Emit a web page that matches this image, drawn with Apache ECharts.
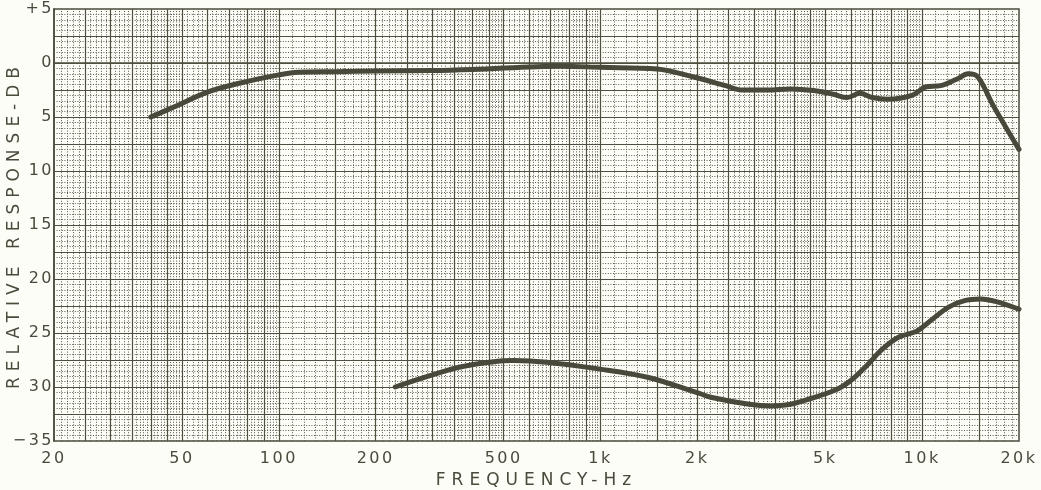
<!DOCTYPE html>
<html>
<head>
<meta charset="utf-8">
<script src="https://cdn.jsdelivr.net/npm/echarts@6/dist/echarts.min.js"></script>
<style>
html,body{margin:0;padding:0;background:#fdfdf7;}
#c{width:1041px;height:490px;}
</style>
</head>
<body>
<div id="c"></div>
<script>
// ---- data ----
const topFreq = [40, 47, 60, 76, 100, 115, 150, 200, 300, 400, 750, 1000, 1500, 1950, 2450, 2750, 3300, 3900, 4600, 5300, 5850, 6400, 7000, 7800, 9300, 10300, 11400, 12800, 13900, 14900, 16600, 20000];
const topDb   = [-5.0, -4.1, -2.7, -1.85, -1.1, -0.85, -0.8, -0.75, -0.7, -0.6, -0.3, -0.4, -0.55, -1.3, -2.1, -2.5, -2.5, -2.4, -2.55, -2.9, -3.2, -2.8, -3.2, -3.35, -3.0, -2.2, -2.1, -1.5, -1.0, -1.3, -3.9, -8.0];
const botFreq = [230, 295, 373, 535, 680, 975, 1400, 2030, 2200, 2900, 3400, 3900, 4200, 5400, 6000, 6730, 7520, 8440, 9660, 10780, 12090, 13550, 15190, 17000, 20000];
const botDb   = [-30.0, -28.95, -28.1, -27.55, -27.7, -28.3, -29.1, -30.6, -30.95, -31.6, -31.75, -31.6, -31.35, -30.25, -29.4, -28.0, -26.5, -25.4, -24.8, -23.7, -22.6, -22.0, -21.85, -22.1, -22.8];
const xTickLabels = [20, 50, 100, 200, 500, 1000, 2000, 5000, 10000, 20000];
const yTickValues = [5, 0, -5, -10, -15, -20, -25, -30, -35];
const decadeMajor = [1, 1.5, 2, 2.5, 3, 3.5, 4, 4.5, 5, 6, 7, 8, 9];

// ---- wider letter spacing like the stencil lettering ----
const _ft = CanvasRenderingContext2D.prototype.fillText;
CanvasRenderingContext2D.prototype.fillText = function (t, x, y, w) {
  const m = /(\d+(?:\.\d+)?)px/.exec(this.font);
  const s = m ? parseFloat(m[1]) : 12;
  try { this.letterSpacing = s >= 16.5 ? '6px' : '2.5px'; } catch (e) {}
  return w === undefined ? _ft.call(this, t, x, y) : _ft.call(this, t, x, y, w);
};

// ---- grid paper lines ----
const majorV = [], minorV = [];
[10, 100, 1000, 10000].forEach(d => {
  decadeMajor.forEach(m => { const f = +(m * d).toFixed(3); if (f > 20 && f < 20000) majorV.push(f); });
  for (let k = 10; k < 100; k++) {
    const m = k / 10;
    if (m >= 5 && (k % 2)) continue;
    if (decadeMajor.indexOf(m) >= 0) continue;
    const f = +(m * d).toFixed(3);
    if (f > 20 && f < 20000) minorV.push(f);
  }
});
const majorH = [], minorH = [];
for (let i = 1; i < 80; i++) {
  const v = 5 - i * 0.5;
  if (i % 5 === 0) majorH.push(v); else minorH.push(v);
}

const ink = '#4a4a3d';
function gridSeries(name, items, axisKey, style) {
  return {
    name: name, type: 'line', data: [], z: 1, silent: true, animation: false,
    markLine: {
      silent: true, animation: false, symbol: ['none', 'none'],
      label: { show: false }, emphasis: { disabled: true },
      lineStyle: style,
      data: items.map(v => ({ [axisKey]: v }))
    }
  };
}

const chart = echarts.init(document.getElementById('c'), null, { renderer: 'canvas' });
const fontFam = '"DejaVu Sans", "Liberation Sans", sans-serif';
chart.setOption({
  backgroundColor: '#fdfdf7',
  animation: false,
  grid: { left: 54, right: 22, top: 9, bottom: 49, outerBoundsMode: 'none', containLabel: false, show: true, borderColor: ink, borderWidth: 1.5, backgroundColor: 'transparent' },
  xAxis: {
    type: 'log', logBase: 10, min: 20, max: 20000,
    name: 'FREQUENCY-Hz', nameLocation: 'middle', nameGap: 31, nameMoveOverlap: false,
    nameTextStyle: { fontFamily: fontFam, fontSize: 17, color: ink },
    axisLine: { show: true, lineStyle: { color: ink, width: 1.5 } },
    axisTick: { show: false },
    splitLine: { show: false },
    minorSplitLine: { show: false },
    axisLabel: {
      customValues: xTickLabels, margin: 10,
      fontFamily: fontFam, fontSize: 16, color: ink,
      formatter: v => (v >= 1000 ? (v / 1000) + 'k' : String(v))
    }
  },
  yAxis: {
    type: 'value', min: -35, max: 5, interval: 5,
    name: 'RELATIVE RESPONSE-DB', nameLocation: 'middle', nameGap: 31, nameMoveOverlap: false,
    nameTextStyle: { fontFamily: fontFam, fontSize: 17, color: ink },
    axisLine: { show: true, lineStyle: { color: ink, width: 1.5 } },
    axisTick: { show: false },
    splitLine: { show: false },
    axisLabel: {
      margin: 0, fontFamily: fontFam, fontSize: 16, color: ink,
      customValues: yTickValues,
      formatter: v => (v > 0 ? '+' + v : v === 0 ? '0' : (v === -35 ? '\u221235' : String(-v)))
    }
  },
  series: [
    gridSeries('minorV', minorV, 'xAxis', { color: '#5c5c50', width: 1, type: [1, 1.6] }),
    gridSeries('minorH', minorH, 'yAxis', { color: '#5c5c50', width: 1, type: [1, 1.6] }),
    gridSeries('majorV', majorV, 'xAxis', { color: '#4e4e41', width: 1.2, type: 'solid' }),
    gridSeries('majorH', majorH, 'yAxis', { color: '#4e4e41', width: 1.2, type: 'solid' }),
    {
      name: 'on-axis', type: 'line', z: 5, symbol: 'none', smooth: 0.35,
      lineStyle: { color: '#48483b', width: 5, cap: 'round', join: 'round' },
      data: topFreq.map((f, i) => [f, topDb[i]])
    },
    {
      name: 'rear', type: 'line', z: 5, symbol: 'none', smooth: 0.35,
      lineStyle: { color: '#48483b', width: 5, cap: 'round', join: 'round' },
      data: botFreq.map((f, i) => [f, botDb[i]])
    }
  ]
});
</script>
</body>
</html>
